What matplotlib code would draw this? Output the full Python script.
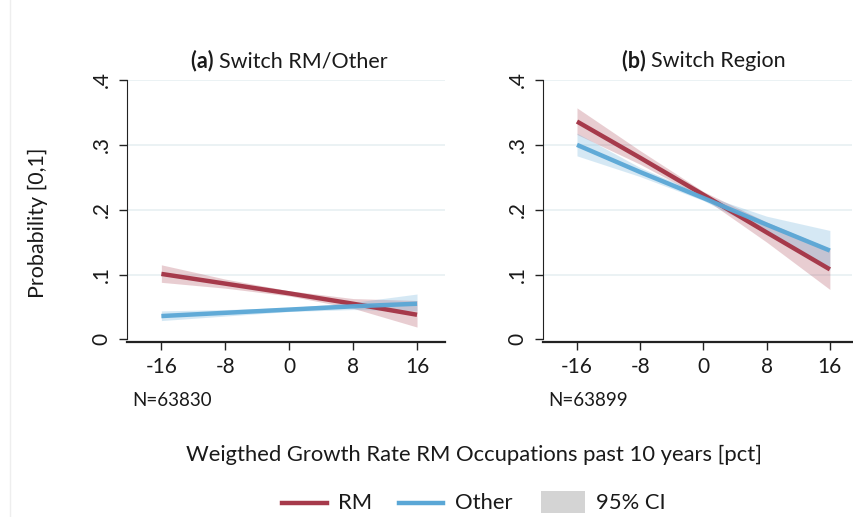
import numpy as np
import matplotlib.pyplot as plt
from matplotlib.patches import Patch, Rectangle
from matplotlib.lines import Line2D

plt.rcParams['font.family'] = ['Lato', 'DejaVu Sans']

# data
x = [-16, -8, 0, 8, 16]

# (a) Switch RM/Other
a_rm = [0.101, 0.086, 0.071, 0.055, 0.038]
a_rm_lo = [0.088, 0.079, 0.067, 0.048, 0.019]
a_rm_hi = [0.115, 0.093, 0.075, 0.063, 0.060]
a_ot = [0.036, 0.041, 0.046, 0.051, 0.055]
a_ot_lo = [0.029, 0.036, 0.043, 0.046, 0.044]
a_ot_hi = [0.044, 0.046, 0.049, 0.057, 0.070]

# (b) Switch Region
b_rm = [0.336, 0.280, 0.223, 0.165, 0.108]
b_rm_lo = [0.316, 0.270, 0.218, 0.150, 0.077]
b_rm_hi = [0.357, 0.291, 0.228, 0.181, 0.140]
b_ot = [0.300, 0.258, 0.218, 0.177, 0.137]
b_ot_lo = [0.283, 0.251, 0.214, 0.165, 0.107]
b_ot_hi = [0.318, 0.265, 0.223, 0.190, 0.168]

titles = [('(a)', 'Switch RM/Other'), ('(b)', 'Switch Region')]
nobs = ['N=63830', 'N=63899']
legend_labels = ['RM', 'Other', '95% CI']

rm_col = '#a63a4b'
ot_col = '#5aa7d6'
txt = '#1a1a1a'

fig = plt.figure(figsize=(8.54, 5.17), dpi=100)
W, H = 854, 517
boxes = [(127, 445), (543, 852)]
panels = [
    (a_rm, a_rm_lo, a_rm_hi, a_ot, a_ot_lo, a_ot_hi),
    (b_rm, b_rm_lo, b_rm_hi, b_ot, b_ot_lo, b_ot_hi),
]
renderer = fig.canvas.get_renderer()

for i, (l, r) in enumerate(boxes):
    ax = fig.add_axes([l / W, 1 - 342 / H, (r - l) / W, (342 - 80) / H])
    rm, rlo, rhi, ot, olo, ohi = panels[i]
    ax.fill_between(x, rlo, rhi, color=rm_col, alpha=0.25, lw=0, zorder=2)
    ax.fill_between(x, olo, ohi, color=ot_col, alpha=0.25, lw=0, zorder=2)
    ax.plot(x, rm, color=rm_col, lw=3.2, zorder=3, solid_capstyle='butt')
    ax.plot(x, ot, color=ot_col, lw=3.2, zorder=3, solid_capstyle='butt', alpha=0.95)
    ax.set_xlim(-20.3, 19.5 if i == 0 else 18.8)
    ax.set_ylim(-0.004, 0.4)
    ax.set_xticks(x)
    ax.set_xticklabels(['-16', '-8', '0', '8', '16'], fontsize=15, color=txt)
    ax.set_yticks([0, 0.1, 0.2, 0.3, 0.4])
    ax.set_yticklabels(['0', '.1', '.2', '.3', '.4'], fontsize=15, color=txt,
                       rotation=90, va='center')
    ax.tick_params(axis='both', direction='out', length=6, width=1, color='#222222')
    ax.tick_params(axis='x', pad=5)
    ax.tick_params(axis='y', pad=5)
    for yv in [0.1, 0.2, 0.3, 0.4]:
        ax.axhline(yv, color='#e8f0f2', lw=1.2, zorder=1)
    for s in ['top', 'right']:
        ax.spines[s].set_visible(False)
    ax.spines['left'].set_bounds(0, 0.4)
    ax.spines['left'].set_color('#222222')
    ax.spines['bottom'].set_color('#222222')
    ax.spines['bottom'].set_linewidth(1.6)

    # title centred over x = 0, bold label part + regular part
    cx = ax.transData.transform((0, 0))[0] / W
    ty = 1 - 61 / H
    t1 = fig.text(0, ty, titles[i][0] + ' ', fontsize=15.5, fontweight='bold',
                  ha='left', va='center', color=txt)
    t2 = fig.text(0, ty, titles[i][1], fontsize=15.5, ha='left', va='center', color=txt)
    w1 = t1.get_window_extent(renderer).width / W
    w2 = t2.get_window_extent(renderer).width / W
    x0 = cx - (w1 + w2) / 2
    t1.set_x(x0)
    t2.set_x(x0 + w1)

    fig.text((l + 5) / W, 1 - 400 / H, nobs[i], fontsize=13.5, ha='left', va='center', color=txt)

fig.text(38 / W, 1 - 223 / H, 'Probability [0,1]', rotation=90, fontsize=15.5,
         ha='center', va='center', color=txt)
fig.text(474 / W, 1 - 455 / H, 'Weigthed Growth Rate RM Occupations past 10 years [pct]',
         fontsize=15.8, ha='center', va='center', color=txt)

# legend drawn in figure pixels
ly = 1 - 503 / H
fig.add_artist(Line2D([282 / W, 327 / W], [ly, ly], color=rm_col, lw=3.2))
fig.add_artist(Line2D([399 / W, 443 / W], [ly, ly], color=ot_col, lw=3.2))
fig.add_artist(Rectangle((541 / W, 1 - 513 / H), 44 / W, 22 / H, transform=fig.transFigure,
                         facecolor='#d4d4d4', edgecolor='none'))
for xt, lab in zip([338, 455, 596], legend_labels):
    fig.text(xt / W, ly, lab, fontsize=15.8, ha='left', va='center', color=txt)

fig.add_artist(Line2D([10 / W, 10 / W], [0, 1], color='#eeeeee', lw=1))

fig.savefig('out.png', dpi=100)
